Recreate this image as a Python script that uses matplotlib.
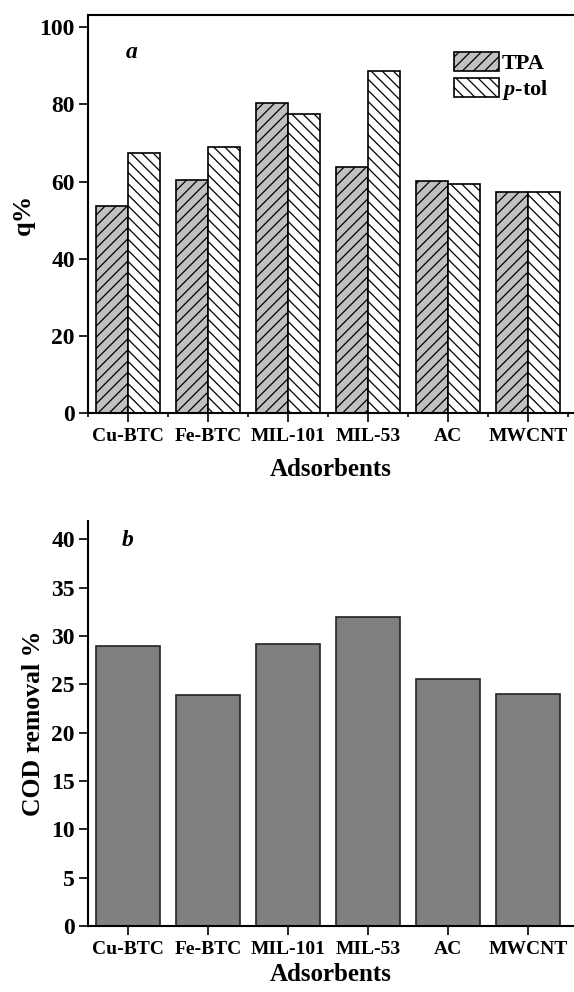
import numpy as np
import matplotlib
matplotlib.use("Agg")
import matplotlib.pyplot as plt
from matplotlib.ticker import MultipleLocator

adsorbents = ["Cu-BTC", "Fe-BTC", "MIL-101", "MIL-53", "AC", "MWCNT"]
tpa = [53.7, 60.4, 80.4, 63.9, 60.2, 57.3]
ptol = [67.3, 69.0, 77.6, 88.6, 59.4, 57.3]
cod = [29.0, 23.9, 29.2, 32.0, 25.6, 24.0]

plt.rcParams["font.family"] = ["Liberation Serif", "DejaVu Serif"]
plt.rcParams["font.weight"] = "bold"
plt.rcParams["hatch.linewidth"] = 0.9
plt.rcParams["mathtext.fontset"] = "custom"
plt.rcParams["mathtext.it"] = "Liberation Serif:italic:bold"
plt.rcParams["mathtext.rm"] = "Liberation Serif:bold"

fig = plt.figure(figsize=(5.74, 9.92), dpi=100)
ax1 = fig.add_axes([0.1533, 0.5837, 0.845, 0.4012])
ax2 = fig.add_axes([0.1533, 0.0665, 0.845, 0.4083])

x = np.arange(len(adsorbents))
w = 0.4

# panel a
ax1.bar(x - w / 2, tpa, w, color="#c0c0c0", edgecolor="black", linewidth=1.2,
        hatch="///", label="TPA")
ax1.bar(x + w / 2, ptol, w, color="white", edgecolor="black", linewidth=1.2,
        hatch="\\\\\\", label="$p$-tol")
ax1.set_ylim(0, 103.2)
ax1.set_xlim(-0.5, 5.56)
ax1.yaxis.set_major_locator(MultipleLocator(20))
ax1.set_xticks(x)
ax1.set_xticks(np.append(np.append([-0.5], x[:-1] + 0.5), [5.5]), minor=True)
ax1.set_xticklabels(adsorbents)
ax1.set_ylabel("q%", fontsize=19, fontweight="bold", labelpad=3)
ax1.set_xlabel("Adsorbents", fontsize=18, fontweight="bold", labelpad=10)
ax1.spines["right"].set_visible(False)
ax1.text(0.089, 0.905, "a", transform=ax1.transAxes, fontsize=17,
         fontweight="bold", fontstyle="italic", ha="center", va="center")
ax1.legend(loc="upper left", bbox_to_anchor=(0.755, 0.907), frameon=False,
           handlelength=2.0, handleheight=0.95, handletextpad=0.15,
           borderpad=0, borderaxespad=0, labelspacing=0.15,
           prop={"weight": "bold", "size": 16})

# panel b
ax2.bar(x, cod, 0.8, color="#808080", edgecolor="#222222", linewidth=1.2)
ax2.set_ylim(0, 41.9)
ax2.set_xlim(-0.5, 5.56)
ax2.yaxis.set_major_locator(MultipleLocator(5))
ax2.set_xticks(x)
ax2.set_xticklabels(adsorbents)
ax2.set_ylabel("COD removal %", fontsize=18.5, fontweight="bold", labelpad=4)
ax2.set_xlabel("Adsorbents", fontsize=18, fontweight="bold", labelpad=4)
ax2.spines["right"].set_visible(False)
ax2.spines["top"].set_visible(False)
ax2.text(0.082, 0.953, "b", transform=ax2.transAxes, fontsize=17,
         fontweight="bold", fontstyle="italic", ha="center", va="center")

for ax in (ax1, ax2):
    for s in ax.spines.values():
        s.set_linewidth(1.5)
    ax.tick_params(axis="y", which="major", direction="out", length=6.5,
                   width=1.2, labelsize=17, pad=3)
    ax.tick_params(axis="x", which="major", direction="out", length=6.5,
                   width=1.2, labelsize=14, pad=4)
    ax.tick_params(axis="x", which="minor", direction="out", length=3,
                   width=1.2)
    for lab in ax.get_xticklabels() + ax.get_yticklabels():
        lab.set_fontweight("bold")

fig.savefig("out.png", dpi=100)
